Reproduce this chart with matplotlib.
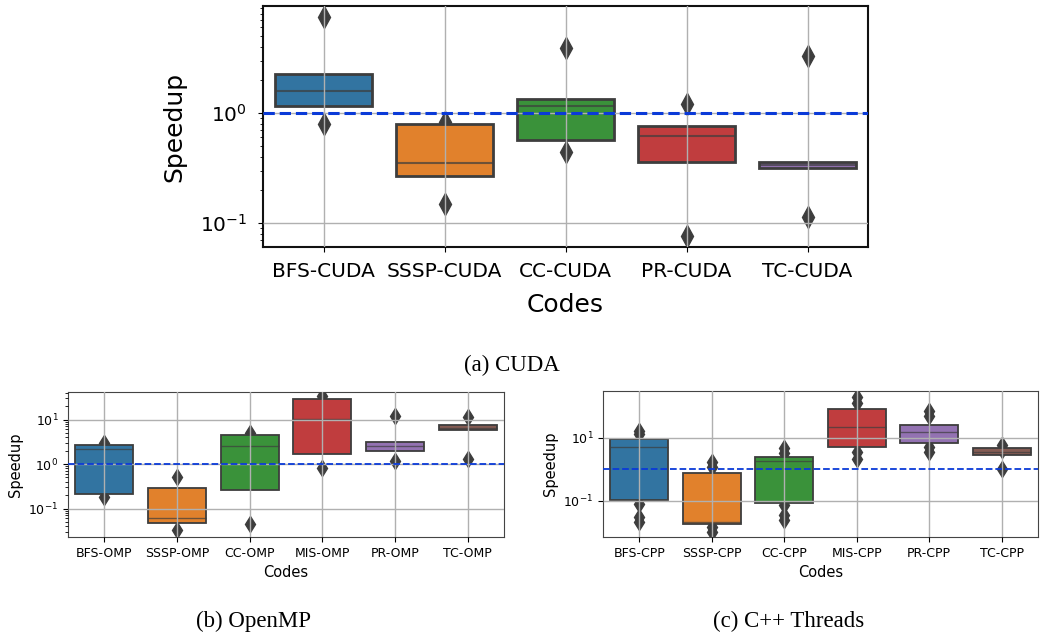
import matplotlib
matplotlib.use('Agg')
import matplotlib.pyplot as plt
from matplotlib.ticker import FixedLocator, NullLocator

# ---- data ----
codes_cuda = ['BFS-CUDA', 'SSSP-CUDA', 'CC-CUDA', 'PR-CUDA', 'TC-CUDA']
lo_cuda = [1.16, 0.27, 0.565, 0.356, 0.315]
hi_cuda = [2.26, 0.79, 1.35, 0.77, 0.356]
med_cuda = [1.6, 0.35, 1.16, 0.62, 0.335]
out_cuda = [[7.4, 0.79], [0.82, 0.148], [3.87, 0.445], [1.22, 0.076], [3.3, 0.114]]

codes_omp = ['BFS-OMP', 'SSSP-OMP', 'CC-OMP', 'MIS-OMP', 'PR-OMP', 'TC-OMP']
lo_omp = [0.215, 0.048, 0.257, 1.7, 1.99, 5.8]
hi_omp = [2.67, 0.284, 4.5, 28.9, 3.12, 7.5]
med_omp = [2.14, 0.06, 2.57, 10.4, 2.5, 6.6]
out_omp = [[2.9, 0.18], [0.5, 0.033], [5.0, 0.044], [34, 0.8], [12, 1.17], [11.5, 1.3]]

codes_cpp = ['BFS-CPP', 'SSSP-CPP', 'CC-CPP', 'MIS-CPP', 'PR-CPP', 'TC-CPP']
lo_cpp = [0.105, 0.019, 0.087, 5.2, 6.6, 2.8]
hi_cpp = [9.1, 0.74, 2.5, 81, 25, 4.6]
med_cpp = [4.96, 0.0216, 1.82, 21.8, 15.5, 3.6]
out_cpp = [[13, 16, 0.079, 0.022, 0.03], [1.2, 1.7, 0.0144, 0.0104],
           [3.2, 4.8, 0.073, 0.024, 0.035], [123, 200, 2.2, 3.6],
           [50, 70, 3.6, 5.2], [4.1, 5.9, 1.0]]

pal_cuda = ['#3274a1', '#e1812c', '#3a923a', '#c03d3e', '#9372b2']
pal6 = ['#3274a1', '#e1812c', '#3a923a', '#c03d3e', '#9372b2', '#845b53']

edge = '#3d3d3d'
blue = '#0a3ad8'


def boxen(ax, codes, lo, hi, med, outs, colors, lw, ms, tick_fs, lab_fs, line_lw):
    xs = list(range(len(codes)))
    for i in xs:
        ax.plot([i] * len(outs[i]), outs[i], 'd', color=edge, ms=ms,
                mec=edge, zorder=0.9)
    ax.bar(xs, [h - l for h, l in zip(hi, lo)], bottom=lo, width=0.8,
           color=colors, edgecolor=edge, linewidth=lw, zorder=1)
    ax.hlines(med, [i - 0.4 for i in xs], [i + 0.4 for i in xs],
              colors=edge, linewidth=lw * 0.75, alpha=0.7, zorder=1.1)
    ax.axhline(1.0, color=blue, ls='--', lw=line_lw, zorder=3)
    ax.set_yscale('log')
    ax.set_xlim(-0.5, len(codes) - 0.5)
    ax.set_xticks(xs)
    ax.set_xticklabels(codes)
    ax.set_axisbelow(False)
    ax.grid(True, which='major', color='#b0b0b0', lw=1.0)
    ax.tick_params(labelsize=tick_fs)
    ax.set_xlabel('Codes', fontsize=lab_fs)
    ax.set_ylabel('Speedup', fontsize=lab_fs)


fig = plt.figure(figsize=(10.43, 6.35), dpi=100)

ax1 = fig.add_axes([263 / 1043, 1 - 247 / 635, 605 / 1043, 241 / 635])
boxen(ax1, codes_cuda, lo_cuda, hi_cuda, med_cuda, out_cuda, pal_cuda,
      2.0, 11, 14.5, 18, 2.2)
ax1.set_ylim(0.0605, 9.4)
ax1.tick_params(axis='y', which='major', pad=8)
ax1.tick_params(axis='x', pad=7)
ax1.xaxis.labelpad = 9
ax1.yaxis.labelpad = 10
for s in ax1.spines.values():
    s.set_linewidth(1.5)
    s.set_color('#111111')

ax2 = fig.add_axes([68 / 1043, 1 - 537 / 635, 436 / 1043, 145 / 635])
boxen(ax2, codes_omp, lo_omp, hi_omp, med_omp, out_omp, pal6,
      1.3, 8, 9, 10.5, 1.3)
ax2.set_ylim(0.0229, 41.5)

ax3 = fig.add_axes([603 / 1043, 1 - 537 / 635, 435 / 1043, 146 / 635])
boxen(ax3, codes_cpp, lo_cpp, hi_cpp, med_cpp, out_cpp, pal6,
      1.3, 8, 9, 10.5, 1.3)
ax3.set_ylim(0.0072, 303)
ax3.yaxis.set_major_locator(FixedLocator([0.1, 10]))
ax3.yaxis.set_minor_locator(NullLocator())

for ax in (ax2, ax3):
    for s in ax.spines.values():
        s.set_color('#444444')

cap = dict(family='Liberation Serif', fontsize=16.5, ha='center', va='center')
fig.text(512 / 1043, 1 - 365 / 635, '(a) CUDA', **cap)
fig.text(253 / 1043, 1 - 621 / 635, '(b) OpenMP', **cap)
fig.text(789 / 1043, 1 - 621 / 635, '(c) C++ Threads', **cap)

fig.savefig('out.png', dpi=100)
